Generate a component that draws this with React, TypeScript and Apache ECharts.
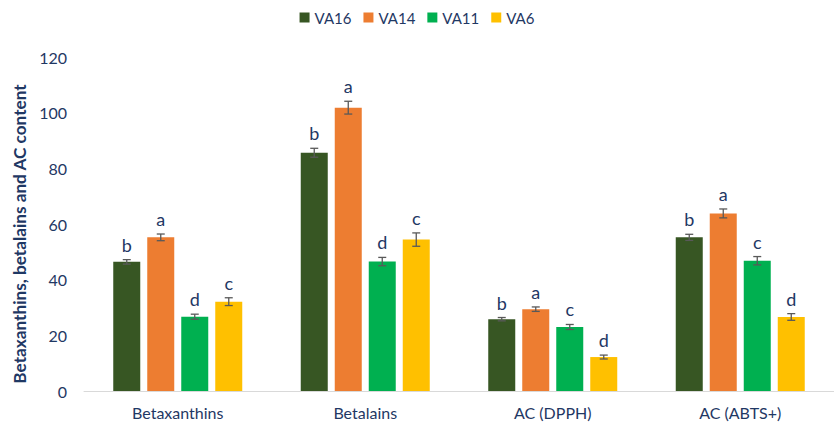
import React, { useEffect, useRef } from "react";
import * as echarts from "echarts";

const categories = ["Betaxanthins", "Betalains", "AC (DPPH)", "AC (ABTS+)"];
const seriesNames = ["VA16", "VA14", "VA11", "VA6"];
const va16 = [46.4, 85.6, 25.8, 55.2];
const va14 = [55.2, 101.8, 29.4, 63.8];
const va11 = [26.7, 46.5, 23.0, 46.8];
const va6 = [32.1, 54.4, 12.2, 26.6];
const va16Err = [0.8, 1.6, 0.6, 1.1];
const va14Err = [1.2, 2.3, 0.8, 1.6];
const va11Err = [0.9, 1.5, 0.9, 1.5];
const va6Err = [1.4, 2.4, 0.7, 1.2];
const va16Letters = ["b", "b", "b", "b"];
const va14Letters = ["a", "a", "a", "a"];
const va11Letters = ["d", "d", "c", "c"];
const va6Letters = ["c", "c", "d", "d"];
const yTicks = { min: 0, max: 120, interval: 20 };

const colors = ["#375623", "#ED7D31", "#00B050", "#FFC000"];
const TEXT = "#1F3864";
const FONT = "Lato";

export default function App() {
  const ref = useRef<HTMLDivElement>(null);
  useEffect(() => {
    if (!ref.current) return;
    const chart = echarts.init(ref.current, null, { renderer: "svg" });
    const values = [va16, va14, va11, va6];
    const errs = [va16Err, va14Err, va11Err, va6Err];
    const letters = [va16Letters, va14Letters, va11Letters, va6Letters];
    const barWidth = 27;
    const gapPx = 7;
    const errData: any[] = [];
    values.forEach((vals, s) => {
      vals.forEach((v, c) => {
        errData.push([c, v, errs[s][c], s, letters[s][c]]);
      });
    });
    const barSeries = seriesNames.map((name, s) => ({
      name,
      type: "bar",
      data: values[s],
      barWidth,
      barGap: (gapPx / barWidth) * 100 + "%",
      itemStyle: { color: colors[s] },
    }));
    chart.setOption({
      animation: false,
      textStyle: { fontFamily: FONT },
      color: colors,
      legend: {
        data: seriesNames,
        top: 5,
        left: "center",
        itemWidth: 10,
        itemHeight: 10,
        itemGap: 12,
        icon: "rect",
        textStyle: { color: TEXT, fontSize: 15, fontFamily: FONT },
      },
      grid: { left: 84, right: -10, top: 57, bottom: 33 },
      xAxis: {
        type: "category",
        data: categories,
        axisLine: { lineStyle: { color: "#D9D9D9", width: 1 } },
        axisTick: { show: false },
        axisLabel: { color: TEXT, fontSize: 16, margin: 13, fontFamily: FONT },
      },
      yAxis: {
        type: "value",
        min: yTicks.min,
        max: yTicks.max,
        interval: yTicks.interval,
        splitLine: { show: false },
        axisLine: { show: false },
        axisTick: { show: false },
        axisLabel: { color: TEXT, fontSize: 16, margin: 17, fontFamily: FONT },
        name: "Betaxanthins, betalains and AC content",
        nameLocation: "middle",
        nameGap: 55,
        nameTextStyle: {
          color: TEXT,
          fontSize: 17.2,
          fontWeight: "bold",
          fontFamily: FONT,
          padding: [0, 20, 0, 0],
        },
      },
      series: [
        ...barSeries,
        {
          type: "custom",
          data: errData,
          z: 10,
          encode: { x: 0, y: 1 },
          renderItem: (params: any, api: any) => {
            const c = api.value(0);
            const v = api.value(1);
            const e = api.value(2);
            const s = api.value(3);
            const letter = errData[params.dataIndex][4];
            const total = 4 * barWidth + 3 * gapPx;
            const base = api.coord([c, v]);
            const x = base[0] - total / 2 + barWidth / 2 + s * (barWidth + gapPx);
            const hi = api.coord([c, v + e])[1];
            const lo = api.coord([c, v - e])[1];
            const cap = 4;
            const st = { stroke: "#595959", lineWidth: 1.3 };
            return {
              type: "group",
              children: [
                { type: "line", shape: { x1: x, y1: hi, x2: x, y2: lo }, style: st },
                { type: "line", shape: { x1: x - cap, y1: hi, x2: x + cap, y2: hi }, style: st },
                { type: "line", shape: { x1: x - cap, y1: lo, x2: x + cap, y2: lo }, style: st },
                {
                  type: "text",
                  style: {
                    text: letter,
                    x,
                    y: hi - 6,
                    align: "center",
                    verticalAlign: "bottom",
                    fill: TEXT,
                    fontSize: 18,
                    fontFamily: FONT,
                  },
                },
              ],
            };
          },
        },
      ],
    });
    return () => chart.dispose();
  }, []);
  return (
    <div
      ref={ref}
      style={{ position: "absolute", left: 0, top: 0, width: 834, height: 424 }}
    />
  );
}
